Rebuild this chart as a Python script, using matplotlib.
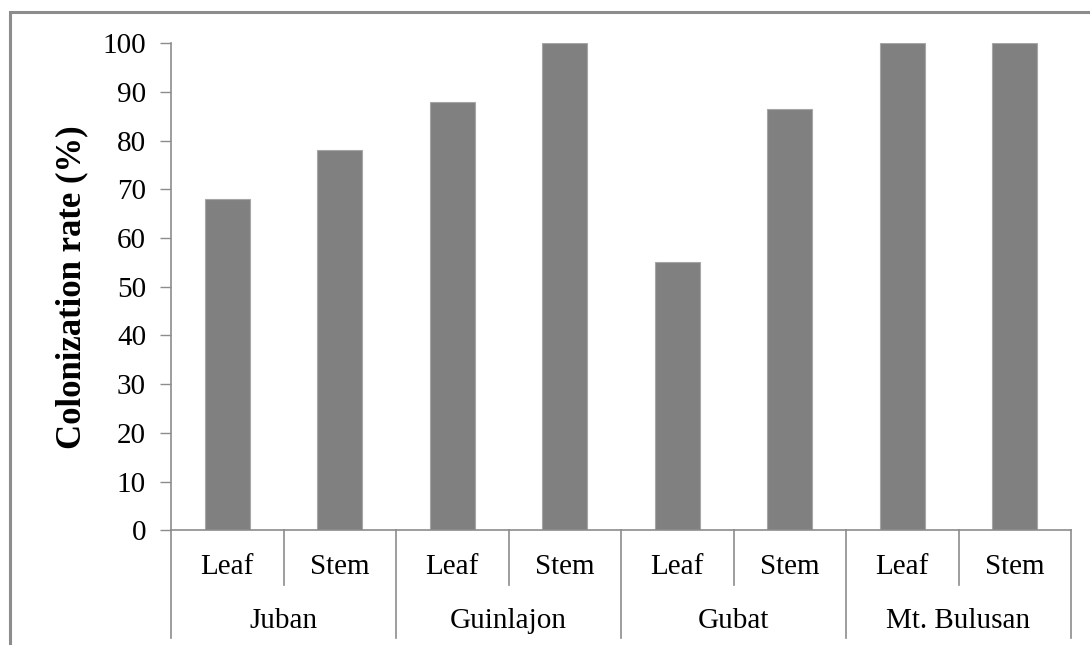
import matplotlib.pyplot as plt
from matplotlib.patches import Rectangle

# values
sites = ['Juban', 'Guinlajon', 'Gubat', 'Mt. Bulusan']
parts = ['Leaf', 'Stem']
rates = [68, 78, 88, 100, 55, 86.5, 100, 100]
yticks = [0, 10, 20, 30, 40, 50, 60, 70, 80, 90, 100]

plt.rcParams['font.family'] = ['Liberation Serif', 'DejaVu Serif']

fig = plt.figure(figsize=(10.9, 6.45), dpi=100)
ax = fig.add_axes([171 / 1090, 1 - 530.3 / 645, 900 / 1090, (530.3 - 43.3) / 645])

# outer chart border (runs off the right and bottom of the image)
fig.patches.append(Rectangle((10 / 1090, -0.1), 1.2, 1 - 12 / 645 + 0.1,
                             transform=fig.transFigure, fill=False,
                             edgecolor='#8c8c8c', linewidth=2.2))

x = [i + 0.5 for i in range(len(rates))]
ax.bar(x, rates, width=0.4, color='#808080', edgecolor='#a6a6a6', linewidth=0.8)

ax.set_xlim(0, len(rates))
ax.set_ylim(0, 100)
ax.set_yticks(yticks)
ax.set_xticks([])
ax.tick_params(axis='y', direction='out', length=8, width=1, color='#8c8c8c',
               pad=10, labelsize=21)

for s in ['top', 'right']:
    ax.spines[s].set_visible(False)
for s in ['left', 'bottom']:
    ax.spines[s].set_color('#8c8c8c')
    ax.spines[s].set_linewidth(1.2)

ax.set_ylabel('Colonization rate (%)', fontsize=25, fontweight='bold', labelpad=10)

# two-level category axis, Excel style
trans = ax.get_xaxis_transform()
h = (530.3 - 43.3)
inner_y = -55 / h
outer_y = -108 / h
for i in range(len(rates) + 1):
    bottom = outer_y if i % 2 == 0 else inner_y
    ax.plot([i, i], [0, bottom], transform=trans, color='#8c8c8c',
            linewidth=1.2, clip_on=False)
for i in range(len(rates)):
    ax.text(i + 0.5, -37 / h, parts[i % 2], transform=trans, ha='center',
            va='center', fontsize=21)
for g, name in enumerate(sites):
    ax.text(2 * g + 1, -91 / h, name, transform=trans, ha='center',
            va='center', fontsize=21)

fig.savefig('out.png', dpi=100)
